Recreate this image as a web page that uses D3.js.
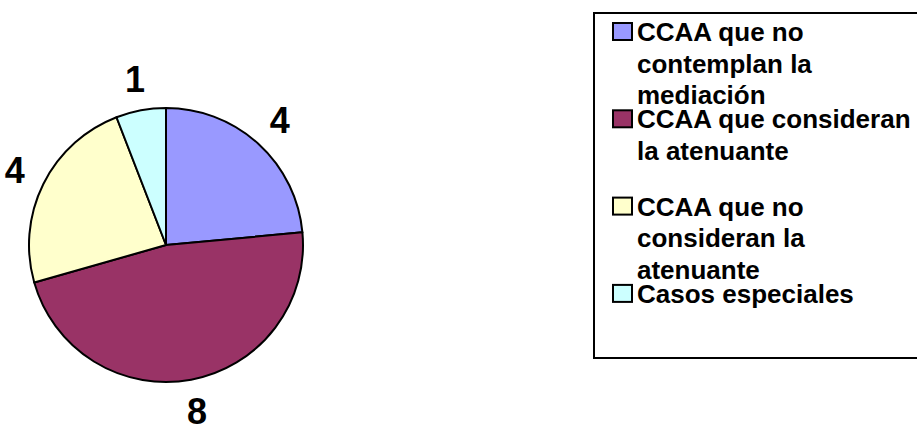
<!DOCTYPE html>
<html>
<head>
<meta charset="utf-8">
<script src="https://cdn.jsdelivr.net/npm/d3@7"></script>
<style>
  body { margin: 0; background: #fff; }
  svg { display: block; }
  svg text { font-family: "Liberation Sans", Arial, Helvetica, sans-serif; font-weight: bold; }
</style>
</head>
<body>
<script>
// Data
const categories = [
  ["CCAA que no", "contemplan la", "mediación"],
  ["CCAA que consideran", "la atenuante"],
  ["CCAA que no", "consideran la", "atenuante"],
  ["Casos especiales"]
];
const values = [4, 8, 4, 1];
const colors = ["#9999FF", "#993366", "#FFFFCC", "#CCFFFF"];

const width = 917, height = 433;
const cx = 166, cy = 245, radius = 137, labelRadius = 169;

const svg = d3.select("body")
    .append("svg")
    .attr("width", width)
    .attr("height", height);

// Pie
const pie = d3.pie().sort(null).value(d => d);
const arcs = pie(values);

const arc = d3.arc().innerRadius(0).outerRadius(radius);
const labelArc = d3.arc().innerRadius(labelRadius).outerRadius(labelRadius);

const g = svg.append("g")
    .attr("transform", "translate(" + cx + "," + cy + ")");

g.selectAll("path")
    .data(arcs)
    .enter()
    .append("path")
    .attr("d", arc)
    .attr("fill", (d, i) => colors[i])
    .attr("stroke", "#000")
    .attr("stroke-width", 2)
    .attr("stroke-linejoin", "round");

g.selectAll("text")
    .data(arcs)
    .enter()
    .append("text")
    .attr("transform", d => "translate(" + labelArc.centroid(d) + ")")
    .attr("text-anchor", "middle")
    .attr("dy", "0.36em")
    .style("font-size", "36px")
    .text(d => d.data);

// Legend
const legend = svg.append("g");

legend.append("rect")
    .attr("x", 594)
    .attr("y", 13)
    .attr("width", 340)
    .attr("height", 345)
    .attr("fill", "#fff")
    .attr("stroke", "#000")
    .attr("stroke-width", 2);

const entryStep = 87.3, lineStep = 31.5;

categories.forEach((lines, i) => {
    const top = 23 + i * entryStep;
    legend.append("rect")
        .attr("x", 613)
        .attr("y", top)
        .attr("width", 19)
        .attr("height", 17)
        .attr("fill", colors[i])
        .attr("stroke", "#000")
        .attr("stroke-width", 2);

    const t = legend.append("text")
        .attr("x", 637)
        .attr("y", top + 18)
        .style("font-size", "26px")
        .attr("fill", "#000");
    lines.forEach((line, j) => {
        t.append("tspan")
            .attr("x", 637)
            .attr("dy", j === 0 ? 0 : lineStep)
            .text(line);
    });
});
</script>
</body>
</html>
